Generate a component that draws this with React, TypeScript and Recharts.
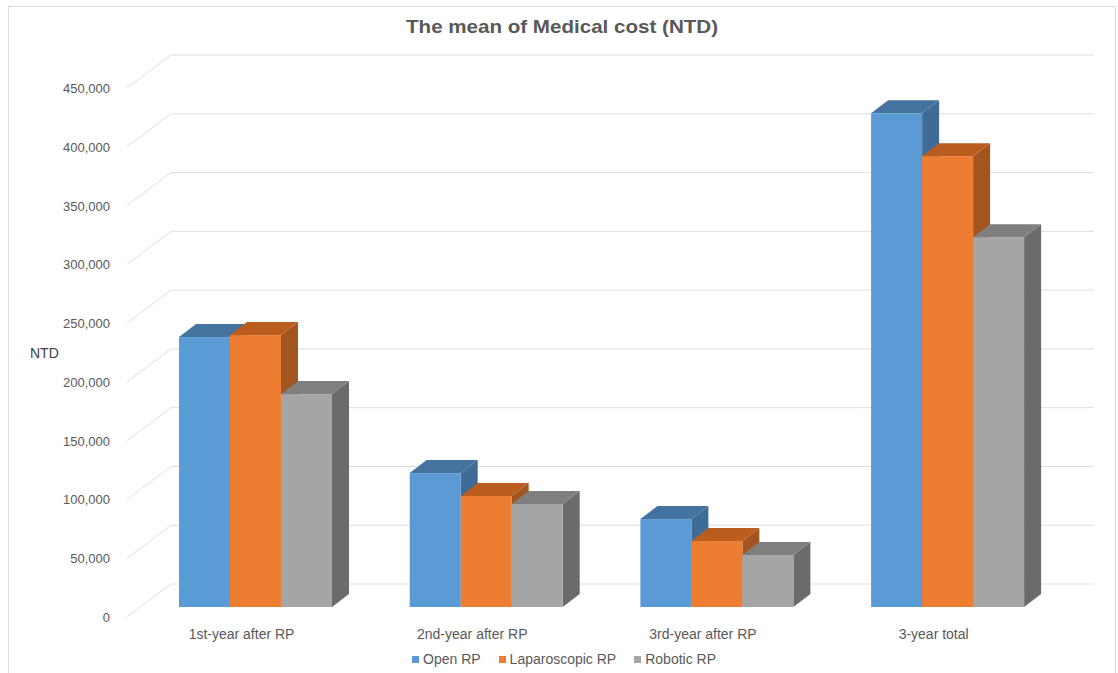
import React from 'react';
import { BarChart, Bar, XAxis, YAxis, CartesianGrid, Legend } from 'recharts';

const categories = ['1st-year after RP', '2nd-year after RP', '3rd-year after RP', '3-year total'];
const openRP = [229600, 113900, 74800, 420000];
const laparoscopicRP = [231300, 94400, 56100, 383500];
const roboticRP = [181100, 87600, 44200, 314600];
const yTicks = [0, 50000, 100000, 150000, 200000, 250000, 300000, 350000, 400000, 450000];

const data = categories.map((name, i) => ({
  name,
  open: openRP[i],
  lap: laparoscopicRP[i],
  rob: roboticRP[i],
}));

const FONT = '"Liberation Sans", Arial, sans-serif';
const TEXT = '#595959';
const DX = 17;
const DY = 13;
const TICK_SHIFT = -14;

const Box3D = (props: any) => {
  const { x, y, width, height, fill, topFill, sideFill } = props;
  const r = x + width;
  const b = y + height;
  return (
    <g>
      <polygon points={`${r},${y} ${r + DX},${y - DY} ${r + DX},${b - DY} ${r},${b}`} fill={sideFill} />
      <polygon points={`${x},${y} ${x + DX},${y - DY} ${r + DX},${y - DY} ${r},${y}`} fill={topFill} />
      <rect x={x} y={y} width={width} height={height} fill={fill} />
    </g>
  );
};

const GridLine = (props: any) => {
  const y = props.y1;
  return (
    <path
      key={props.key ?? y}
      d={`M127,${y + 10} L171,${y - 23} L1094,${y - 23}`}
      fill="none"
      stroke="#DEDEDE"
      strokeWidth={1}
    />
  );
};

const YTick = (props: any) => {
  const { y, payload } = props;
  return (
    <text x={110} y={y + 15} textAnchor="end" fontFamily={FONT} fontSize={13} fill={TEXT}>
      {Number(payload.value).toLocaleString('en-US')}
    </text>
  );
};

const XTick = (props: any) => {
  const { x, payload } = props;
  return (
    <text x={x + TICK_SHIFT} y={639} textAnchor="middle" fontFamily={FONT} fontSize={14} fill={TEXT}>
      {payload.value}
    </text>
  );
};

const LegendContent = (props: any) => (
  <div style={{ display: 'flex', fontFamily: FONT, fontSize: 14, color: TEXT, lineHeight: '16px' }}>
    {props.payload.map((p: any) => (
      <div key={p.value} style={{ display: 'flex', alignItems: 'center', marginRight: 18, whiteSpace: 'nowrap' }}>
        <span style={{ width: 7, height: 7, background: p.color, marginRight: 4, display: 'inline-block' }} />
        {p.value}
      </div>
    ))}
  </div>
);

export default function App() {
  return (
    <div style={{ position: 'absolute', left: 0, top: 0, width: 1118, height: 673, overflow: 'hidden', background: '#fff' }}>
      <div style={{ position: 'absolute', left: 8, top: 6, width: 1106, height: 720, border: '1px solid #DCDCDC' }} />
      <div style={{ position: 'absolute', left: 0, top: 0 }}>
        <BarChart
          width={1118}
          height={673}
          data={data}
          barCategoryGap={38.8}
          barGap={0}
          margin={{ top: 78, right: 55, bottom: 36, left: 0 }}
        >
          <text
            x={562}
            y={33}
            textAnchor="middle"
            fontFamily={FONT}
            fontWeight="bold"
            fontSize={19}
            fill={TEXT}
            textLength={312}
            lengthAdjust="spacingAndGlyphs"
          >
            The mean of Medical cost (NTD)
          </text>
          <text x={30} y={358} fontFamily={FONT} fontSize={14} fill="#404040">NTD</text>
          <CartesianGrid vertical={false} horizontal={GridLine as any} />
          <YAxis
            width={140.2}
            domain={[0, 450000]}
            ticks={yTicks}
            axisLine={false}
            tickLine={false}
            tick={YTick as any}
            interval={0}
          />
          <XAxis dataKey="name" height={30} axisLine={false} tickLine={false} tick={XTick as any} interval={0} />
          <Legend
            layout="horizontal"
            verticalAlign="middle"
            align="center"
            itemSorter={null as any}
            content={LegendContent as any}
            wrapperStyle={{ position: 'absolute', left: 412, top: 651, width: 'auto', bottom: 'auto', right: 'auto' }}
          />
          <Bar
            dataKey="open"
            name="Open RP"
            fill="#5B9BD5"
            isAnimationActive={false}
            shape={(p: any) => <Box3D {...p} topFill="#44739F" sideFill="#3F6C96" />}
          />
          <Bar
            dataKey="lap"
            name="Laparoscopic RP"
            fill="#ED7D31"
            isAnimationActive={false}
            shape={(p: any) => <Box3D {...p} topFill="#BC5D20" sideFill="#A2561F" />}
          />
          <Bar
            dataKey="rob"
            name="Robotic RP"
            fill="#A5A5A5"
            isAnimationActive={false}
            shape={(p: any) => <Box3D {...p} topFill="#7F7F7F" sideFill="#6B6B6B" />}
          />
        </BarChart>
      </div>
    </div>
  );
}
